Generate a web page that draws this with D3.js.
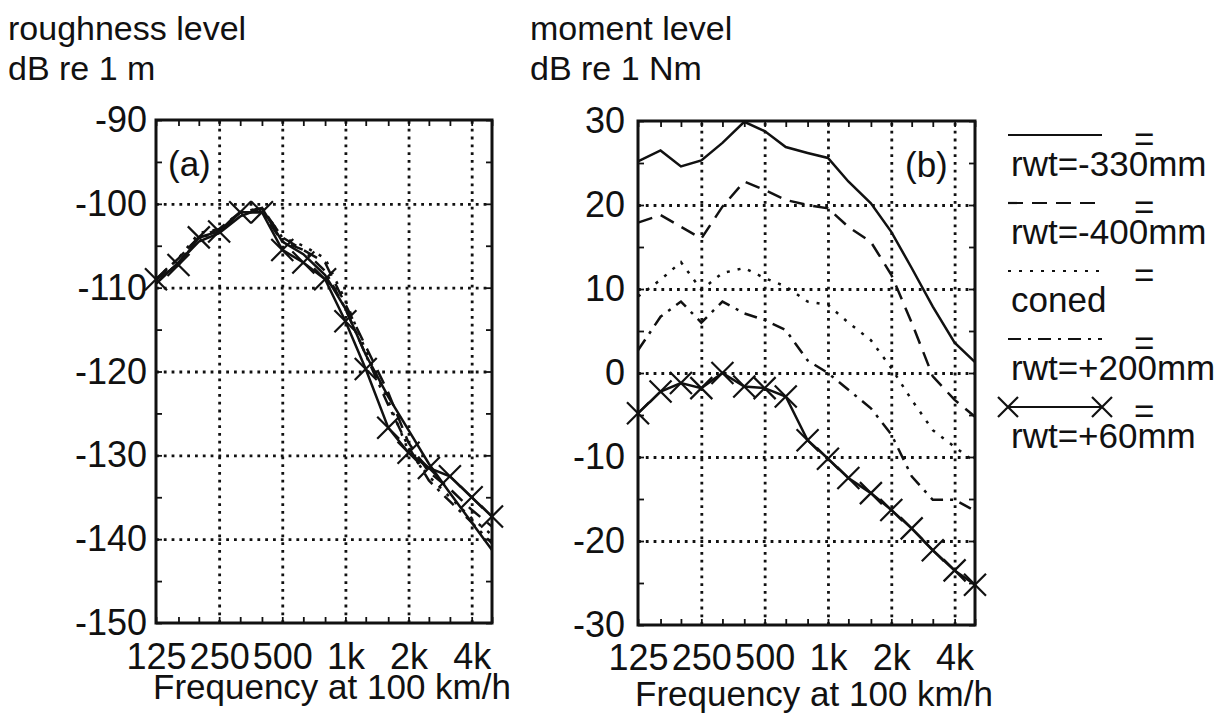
<!DOCTYPE html>
<html lang="en">
<head>
<meta charset="UTF-8">
<title>Roughness and moment level</title>
<script src="https://d3js.org/d3.v7.min.js"></script>
<style>
  body { margin: 0; background: #fff; }
  svg text { font-family: "Liberation Sans", Arial, Helvetica, sans-serif; fill: #111; }
</style>
</head>
<body>
<div id="chart"></div>
<script>
// third-octave band centre frequencies (Hz at 100 km/h)
const bands = [125, 160, 200, 250, 315, 400, 500, 630, 800, 1000, 1250, 1600, 2000, 2500, 3150, 4000, 5000];
const octTicks = [125, 250, 500, 1000, 2000, 4000];
const octLabels = ["125", "250", "500", "1k", "2k", "4k"];
const roughTicks = [-150, -140, -130, -120, -110, -100, -90];
const momentTicks = [-30, -20, -10, 0, 10, 20, 30];

// (a) roughness level, dB re 1 m
const roughM330 = [-109.5, -107, -104.5, -103.5, -101.5, -100.5, -104.5, -106, -108.5, -112.5, -118, -123, -127, -131, -134.5, -138, -141.3];
const roughM400 = [-109, -106.5, -104, -103, -101, -100.5, -104, -105.5, -107, -112, -117, -122.5, -128.5, -132, -134, -136.5, -138.5];
const roughConed = [-109, -106.5, -103.5, -103, -101, -100.5, -104, -105, -106.5, -111.5, -117.5, -123.5, -129.5, -132.5, -135, -137.5, -139.5];
const roughP200 = [-109.5, -107, -104, -103.5, -101, -101, -104.5, -105.5, -108, -112.5, -118, -124, -129, -133, -135.5, -138, -140.5];
const roughP60 = [-109, -107.3, -104, -103.3, -101, -101, -105.5, -107, -109, -114, -119.7, -126.7, -129.7, -131.5, -132.5, -135, -137.3];

// (b) moment level, dB re 1 Nm
const momM330 = [25.2, 26.5, 24.6, 25.3, 27.4, 29.9, 28.8, 26.9, 26.2, 25.6, 22.8, 20.2, 16.8, 12.5, 7.9, 3.6, 1.3];
const momM400 = [17.9, 18.8, 17.4, 16.0, 19.8, 22.8, 21.8, 20.6, 20.0, 19.6, 17.4, 15.6, 11.7, 6.0, -0.4, -3.2, -5.2];
const momConed = [9.1, 11.1, 13.2, 9.9, 11.9, 12.5, 11.3, 10.3, 8.5, 8.1, 6.0, 3.9, 0.6, -3.2, -6.8, -8.8, -10.6];
const momP200 = [2.7, 6.7, 8.5, 6.0, 8.5, 7.1, 6.3, 5.1, 1.5, 0.0, -2.0, -4.2, -7.3, -12.3, -15.1, -15.1, -16.4];
const momP60 = [-4.8, -2.2, -1.2, -1.8, 0.0, -1.6, -1.8, -2.8, -8.0, -10.2, -12.5, -14.3, -16.3, -18.5, -21.1, -23.5, -25.2];

const legendNames = ["rwt=-330mm", "rwt=-400mm", "coned", "rwt=+200mm", "rwt=+60mm"];

const styles = [
  { dash: null, mark: false },
  { dash: "15,9", mark: false },
  { dash: "3,8", mark: false },
  { dash: "13,7,3,7", mark: false },
  { dash: null, mark: true }
];

const W = 1220, H = 715, FS = 35;

const svg = d3.select("#chart").append("svg")
  .attr("width", W).attr("height", H);

function xMark(g, x, y, s) {
  g.append("path")
    .attr("d", `M${x - s},${y - s}L${x + s},${y + s}M${x - s},${y + s}L${x + s},${y - s}`)
    .attr("stroke", "#111").attr("stroke-width", 2.2).attr("fill", "none");
}

function drawPanel(p) {
  const x = d3.scaleLog().domain([125, 5000]).range(p.xr);
  const y = d3.scaleLinear().domain(p.yd).range(p.yr);
  const g = svg.append("g");
  const top = p.yr[1], bottom = p.yr[0], left = p.xr[0], right = p.xr[1];

  // dotted grid
  g.append("g")
    .attr("transform", `translate(0,${bottom})`)
    .call(d3.axisBottom(x).tickValues(octTicks.slice(1)).tickSize(-(bottom - top)).tickFormat(""))
    .call(a => a.select(".domain").remove())
    .selectAll("line").attr("stroke", "#111").attr("stroke-width", 2.8).attr("stroke-dasharray", "2.8,5");
  g.append("g")
    .attr("transform", `translate(${left},0)`)
    .call(d3.axisLeft(y).tickValues(p.yt.slice(1, -1)).tickSize(-(right - left)).tickFormat(""))
    .call(a => a.select(".domain").remove())
    .selectAll("line").attr("stroke", "#111").attr("stroke-width", 2.8).attr("stroke-dasharray", "2.8,5");

  // small inward ticks
  const ySmall = d3.range(p.yd[0], p.yd[1] + 1, 5);
  [[d3.axisBottom(x).tickValues(bands).tickSize(-6), `translate(0,${bottom})`],
   [d3.axisTop(x).tickValues(bands).tickSize(-6), `translate(0,${top})`],
   [d3.axisLeft(y).tickValues(ySmall).tickSize(-6), `translate(${left},0)`],
   [d3.axisRight(y).tickValues(ySmall).tickSize(-6), `translate(${right},0)`]
  ].forEach(([ax, tr]) => {
    g.append("g").attr("transform", tr)
      .call(ax.tickFormat(""))
      .call(a => a.select(".domain").remove())
      .selectAll("line").attr("stroke", "#111").attr("stroke-width", 1.8);
  });

  // tick labels
  g.append("g")
    .attr("transform", `translate(0,${bottom})`)
    .call(d3.axisBottom(x).tickValues(octTicks).tickSize(0).tickPadding(p.xpad)
      .tickFormat((d, i) => octLabels[i]))
    .call(a => a.select(".domain").remove())
    .selectAll("text").attr("font-size", FS + 1).attr("fill", "#111");
  g.append("g")
    .attr("transform", `translate(${left},0)`)
    .call(d3.axisLeft(y).tickValues(p.yt).tickSize(0).tickPadding(p.ypad).tickFormat(d => String(d)))
    .call(a => a.select(".domain").remove())
    .selectAll("text").attr("font-size", FS + 1).attr("fill", "#111");

  // series
  const line = d3.line().x((d, i) => x(bands[i])).y(d => y(d));
  p.series.forEach((s, k) => {
    g.append("path")
      .datum(s)
      .attr("d", line)
      .attr("fill", "none")
      .attr("stroke", "#111")
      .attr("stroke-width", 2.5)
      .attr("stroke-dasharray", styles[k].dash);
    if (styles[k].mark) s.forEach((v, i) => xMark(g, x(bands[i]), y(v), 11));
  });

  // box
  g.append("rect")
    .attr("x", left).attr("y", top)
    .attr("width", right - left).attr("height", bottom - top)
    .attr("fill", "none").attr("stroke", "#111").attr("stroke-width", 3);

  // labels
  g.append("text").attr("x", p.tagX).attr("y", top + 56).attr("font-size", FS).text(p.tag);
  g.append("text").attr("x", p.titleX).attr("y", 40).attr("font-size", 34).text(p.title1);
  g.append("text").attr("x", p.titleX).attr("y", 80).attr("font-size", 34).text(p.title2);
  g.append("text").attr("x", p.xlabX).attr("y", p.xlabY).attr("font-size", FS).text("Frequency at 100 km/h");
}

drawPanel({
  xr: [156, 492], yr: [623, 120], yd: [-150, -90], yt: roughTicks,
  xpad: 20, ypad: 9,
  series: [roughM330, roughM400, roughConed, roughP200, roughP60],
  tag: "(a)", tagX: 168,
  title1: "roughness level", title2: "dB re 1 m", titleX: 8,
  xlabX: 153, xlabY: 699
});

drawPanel({
  xr: [638, 975], yr: [625, 121], yd: [-30, 30], yt: momentTicks,
  xpad: 19, ypad: 13,
  series: [momM330, momM400, momConed, momP200, momP60],
  tag: "(b)", tagX: 905,
  title1: "moment level", title2: "dB re 1 Nm", titleX: 530,
  xlabX: 635, xlabY: 706
});

// legend
const leg = svg.append("g");
const legY = d3.scaleLinear().domain([0, 4]).range([135, 407]);
legendNames.forEach((name, k) => {
  const ly = legY(k);
  leg.append("line")
    .attr("x1", 1008).attr("x2", 1102).attr("y1", ly).attr("y2", ly)
    .attr("stroke", "#111").attr("stroke-width", 2.2)
    .attr("stroke-dasharray", styles[k].dash);
  if (styles[k].mark) { xMark(leg, 1008, ly, 10); xMark(leg, 1102, ly, 10); }
  leg.append("text").attr("x", 1134).attr("y", ly + 16).attr("font-size", FS).text("=");
  leg.append("text").attr("x", 1011).attr("y", ly + 41).attr("font-size", FS).text(name);
});
</script>
</body>
</html>
